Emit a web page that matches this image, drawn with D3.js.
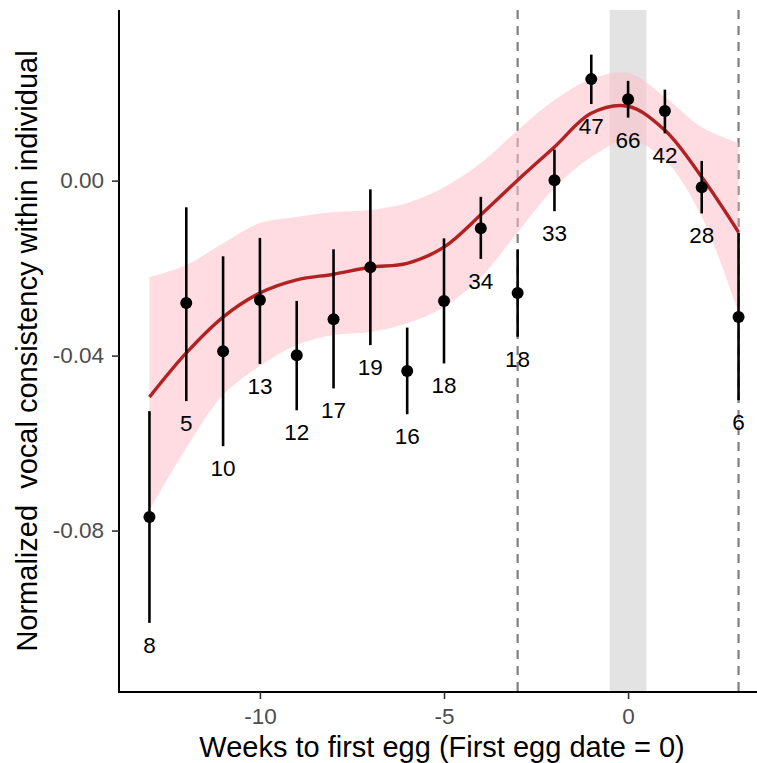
<!DOCTYPE html>
<html lang="en">
<head>
  <meta charset="UTF-8">
  <title>Vocal consistency</title>
  <script src="https://cdn.jsdelivr.net/npm/d3@7"></script>
<style>
body{
  margin: 0;
  background: #fff;
}
svg text{
  font-family: "Liberation Sans", Arial, sans-serif;
}
.eje path{
  stroke: #000;
  stroke-width: 2;
}
.eje line{
  stroke: #333;
  stroke-width: 1.6;
}
.eje text{
  fill: #4d4d4d;
  font-size: 22.5px;
}
</style>
</head>
<body>
  <div id="grafico"></div>

  <script>
    // weeks relative to first egg
    var semanas = [-13, -12, -11, -10, -9, -8, -7, -6, -5, -4, -3, -2, -1, 0, 1, 2, 3];
    // weekly mean and error bar ends
    var medias = [-0.0769, -0.0280, -0.0390, -0.0273, -0.0399, -0.0317, -0.0198, -0.0435, -0.0275, -0.0109, -0.0257, 0.0001, 0.0232, 0.0186, 0.0159, -0.0015, -0.0312];
    var limSup = [-0.0527, -0.0061, -0.0173, -0.0131, -0.0275, -0.0157, -0.0020, -0.0336, -0.0132, -0.0037, -0.0157, 0.0071, 0.0288, 0.0228, 0.0208, 0.0045, -0.0119];
    var limInf = [-0.1011, -0.0504, -0.0607, -0.0419, -0.0525, -0.0475, -0.0376, -0.0534, -0.0418, -0.0179, -0.0357, -0.0070, 0.0175, 0.0144, 0.0108, -0.0075, -0.0502];
    var muestras = [8, 5, 10, 13, 12, 17, 19, 16, 18, 34, 18, 33, 47, 66, 42, 28, 6];
    // smoothed fit and its band, read at each week
    var ajuste = [-0.0495, -0.0394, -0.0312, -0.0257, -0.0227, -0.0214, -0.0198, -0.0189, -0.0152, -0.0078, 0.0001, 0.0077, 0.0154, 0.0170, 0.0115, 0.0008, -0.0118];
    var bandaSup = [-0.0221, -0.0193, -0.0143, -0.0097, -0.0083, -0.0072, -0.0067, -0.0051, -0.0015, 0.0040, 0.0115, 0.0184, 0.0232, 0.0246, 0.0191, 0.0122, 0.0086];
    var bandaInf = [-0.0753, -0.0611, -0.0490, -0.0424, -0.0376, -0.0353, -0.0346, -0.0326, -0.0289, -0.0221, -0.0118, -0.0017, 0.0054, 0.0093, 0.0047, -0.0083, -0.0303];
    var marcasX = [-10, -5, 0];
    var marcasY = [-0.08, -0.04, 0.00];
    var lineasDiscontinuas = [-3, 3];
    var franjaPuesta = [-0.5, 0.5];

    var w = 757;
    var h = 763;
    var izq = 120, der = 768, arriba = 10, abajo = 692;

    var grafico = d3.select("#grafico")
      .append("svg")
      .attr("width", w)
      .attr("height", h);

    var datos = semanas.map(function(s, i){
      return {x: s, m: medias[i], sup: limSup[i], inf: limInf[i], n: muestras[i],
              f: ajuste[i], bs: bandaSup[i], bi: bandaInf[i]};
    });

    //Escalas
    var xScale = d3.scaleLinear()
      .domain([-13.8, 3.8])
      .range([izq, der]);

    var yScale = d3.scaleLinear()
      .domain([-0.1169, 0.039])
      .range([abajo, arriba]);

    // gray band around first egg
    grafico.append("rect")
      .attr("x", xScale(franjaPuesta[0]))
      .attr("y", arriba)
      .attr("width", xScale(franjaPuesta[1]) - xScale(franjaPuesta[0]))
      .attr("height", abajo - arriba)
      .attr("fill", "#e3e3e3");

    grafico.selectAll(".discontinua")
      .data(lineasDiscontinuas)
      .enter()
      .append("line")
      .attr("x1", function(d){ return xScale(d); })
      .attr("x2", function(d){ return xScale(d); })
      .attr("y1", arriba)
      .attr("y2", abajo)
      .attr("stroke", "#7f7f7f")
      .attr("stroke-width", 2.2)
      .attr("stroke-dasharray", "9,7");

    // banda de confianza
    var area = d3.area()
      .x(function(d){ return xScale(d.x); })
      .y0(function(d){ return yScale(d.bi); })
      .y1(function(d){ return yScale(d.bs); })
      .curve(d3.curveCatmullRom);

    grafico.append("path")
      .datum(datos)
      .attr("d", area)
      .attr("fill", "#ffc0cb")
      .attr("fill-opacity", 0.55);

    var line = d3.line()
      .x(function(d){ return xScale(d.x); })
      .y(function(d){ return yScale(d.f); })
      .curve(d3.curveCatmullRom);

    grafico.append("path")
      .datum(datos)
      .attr("d", line)
      .attr("fill", "none")
      .attr("stroke", "#b22222")
      .attr("stroke-width", 3.4);

    // error bars
    grafico.selectAll(".barra")
      .data(datos)
      .enter()
      .append("line")
      .attr("x1", function(d){ return xScale(d.x); })
      .attr("x2", function(d){ return xScale(d.x); })
      .attr("y1", function(d){ return yScale(d.sup); })
      .attr("y2", function(d){ return yScale(d.inf); })
      .attr("stroke", "#000")
      .attr("stroke-width", 2.6);

    grafico.selectAll(".punto")
      .data(datos)
      .enter()
      .append("circle")
      .attr("cx", function(d){ return xScale(d.x); })
      .attr("cy", function(d){ return yScale(d.m); })
      .attr("r", 6)
      .attr("fill", "#000");

    grafico.selectAll(".cuenta")
      .data(datos)
      .enter()
      .append("text")
      .attr("x", function(d){ return xScale(d.x); })
      .attr("y", function(d){ return yScale(d.inf) + 30; })
      .attr("text-anchor", "middle")
      .attr("font-size", "22.5px")
      .attr("fill", "#000")
      .text(function(d){ return d.n; });

    // ejes
    var ejeX = d3.axisBottom(xScale)
      .tickValues(marcasX)
      .tickSize(7)
      .tickPadding(9)
      .tickFormat(function(d){ return String(d); });

    var ejeY = d3.axisLeft(yScale)
      .tickValues(marcasY)
      .tickSize(7)
      .tickPadding(8)
      .tickFormat(function(d){ return d3.format(".2f")(d).replace("\u2212", "-"); });

    grafico.append("g")
      .attr("class", "eje")
      .attr("transform", "translate(0," + abajo + ")")
      .call(ejeX)
      .call(function(g){ g.select(".domain").attr("d", "M" + (izq - 2) + ",0H" + der); });

    grafico.append("g")
      .attr("class", "eje")
      .attr("transform", "translate(" + (izq - 1) + ",0)")
      .call(ejeY)
      .call(function(g){ g.select(".domain").attr("d", "M0," + arriba + "V" + (abajo + 1)); });

    grafico.append("text")
      .attr("x", (izq + der) / 2 - 2)
      .attr("y", 757)
      .attr("text-anchor", "middle")
      .attr("font-size", "29px")
      .attr("fill", "#000")
      .text("Weeks to first egg (First egg date = 0)");

    grafico.append("text")
      .attr("transform", "translate(37," + ((arriba + abajo) / 2) + ") rotate(-90)")
      .attr("text-anchor", "middle")
      .attr("font-size", "29px")
      .attr("fill", "#000")
      .style("white-space", "pre")
      .text("Normalized  vocal consistency within individual");
  </script>
</body>
</html>
